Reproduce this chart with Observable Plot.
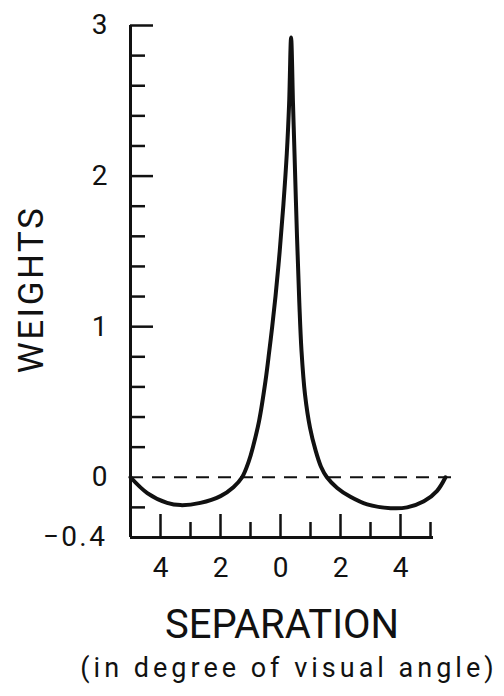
<!DOCTYPE html>
<html>
<head>
<meta charset="utf-8">
<script src="https://cdn.jsdelivr.net/npm/d3@7"></script>
<script src="https://cdn.jsdelivr.net/npm/@observablehq/plot@0.6"></script>
<style>
  html, body { margin: 0; padding: 0; background: #fff; }
  #chart { width: 504px; height: 696px; }
</style>
</head>
<body>
<div id="chart"></div>
<script>
// Separation (degrees of visual angle) and weights
const sepX = [-5, -4.44, -3.78, -3.33, -2.67, -2.0, -1.57, -1.28, -1.05, -0.92, -0.713, -0.5, -0.373, -0.277, -0.167, -0.027, 0.1, 0.21, 0.287, 0.353, 0.417, 0.467, 0.55, 0.627, 0.7, 0.817, 0.983, 1.167, 1.35, 1.547, 1.89, 2.33, 2.89, 3.67, 4.22, 4.78, 5.22, 5.5];
const weightY = [0, -0.105, -0.17, -0.185, -0.17, -0.125, -0.066, 0, 0.11, 0.2, 0.375, 0.64, 0.84, 1.0, 1.2, 1.5, 1.82, 2.15, 2.48, 2.92, 2.48, 2.15, 1.6, 1.16, 0.84, 0.55, 0.33, 0.18, 0.07, 0, -0.071, -0.13, -0.18, -0.205, -0.2, -0.16, -0.09, 0];

// Axis ticks and labels
const yMinorTicks = [-0.2, 0.2, 0.4, 0.6, 0.8, 1.2, 1.4, 1.6, 1.8, 2.2, 2.4, 2.6, 2.8];
const yMajorTicks = [1, 2, 3];
const yTickLabels = [3, 2, 1, 0, -0.4];
const xMajorTicks = [-4, -2, 0, 2, 4];
const xMinorTicks = [-3, -1, 1, 3, 5];
const xDomain = [-5, 5.7];
const yDomain = [-0.4, 3];
const xAxisEnd = 5.1;

const yLabel = "WEIGHTS";
const xLabel = "SEPARATION";
const xSubLabel = "(in degree of visual angle)";

const rows = sepX.map((s, i) => ({sep: s, weight: weightY[i]}));
const ink = "#111";
const fmtY = d => d < 0 ? "\u2212" + Math.abs(d) : String(d);

const chart = Plot.plot({
  width: 504,
  height: 696,
  marginTop: 25,
  marginBottom: 159,
  marginLeft: 130,
  marginRight: 53,
  x: {domain: xDomain, label: null},
  y: {domain: yDomain, label: null},
  style: {fontFamily: "Roboto, 'DejaVu Sans', sans-serif", fontSize: "28px", color: ink, background: "#fff"},
  marks: [
    // dashed zero line
    Plot.ruleY([0], {x1: xDomain[0], x2: xDomain[1], stroke: ink, strokeWidth: 2, strokeDasharray: "13,9"}),
    // axis lines
    Plot.ruleX([xDomain[0]], {y1: yDomain[0], y2: yDomain[1], stroke: ink, strokeWidth: 3}),
    Plot.ruleY([yDomain[0]], {x1: xDomain[0], x2: xAxisEnd, stroke: ink, strokeWidth: 3}),
    // inward ticks
    Plot.axisY({ticks: yMinorTicks, tickSize: -15, tickFormat: () => "", strokeWidth: 2.5, stroke: ink}),
    Plot.axisY({ticks: yMajorTicks, tickSize: -23, tickFormat: () => "", strokeWidth: 2.5, stroke: ink}),
    Plot.axisY({ticks: yTickLabels, tickSize: 0, tickPadding: 23, fontSize: 28, fill: ink, tickFormat: fmtY}),
    Plot.axisX({ticks: xMinorTicks, tickSize: -15, tickFormat: () => "", strokeWidth: 2.5, stroke: ink}),
    Plot.axisX({ticks: xMajorTicks, tickSize: -23, tickFormat: () => "", strokeWidth: 2.5, stroke: ink}),
    Plot.axisX({ticks: xMajorTicks, tickSize: 0, tickPadding: 20, fontSize: 28, fill: ink,
      tickFormat: d => String(Math.abs(d))}),
    // curve
    Plot.line(rows, {x: "sep", y: "weight", curve: "catmull-rom", stroke: ink, strokeWidth: 4, strokeLinejoin: "round", strokeLinecap: "round"}),
    // titles
    Plot.text([xLabel], {frameAnchor: "bottom", lineAnchor: "bottom", textAnchor: "middle", dx: -9, dy: 100, fontSize: 40, fill: ink}),
    Plot.text([xSubLabel], {frameAnchor: "bottom", lineAnchor: "bottom", textAnchor: "middle", dx: -2, dy: 139, fontSize: 27, fill: ink}),
    Plot.text([yLabel], {frameAnchor: "left", textAnchor: "middle", lineAnchor: "middle", rotate: -90, dx: -99, dy: 8, fontSize: 35, fill: ink})
  ]
});

const svg = d3.select(chart);
svg.selectAll("text").filter(function() { return this.textContent === xSubLabel; }).style("letter-spacing", "4px");
svg.selectAll("text").filter(function() { return this.textContent === yLabel; }).style("letter-spacing", "2.5px");
svg.selectAll("text").filter(function() { return this.textContent === fmtY(-0.4); }).style("letter-spacing", "2.5px");
document.getElementById("chart").appendChild(chart);
</script>
</body>
</html>
